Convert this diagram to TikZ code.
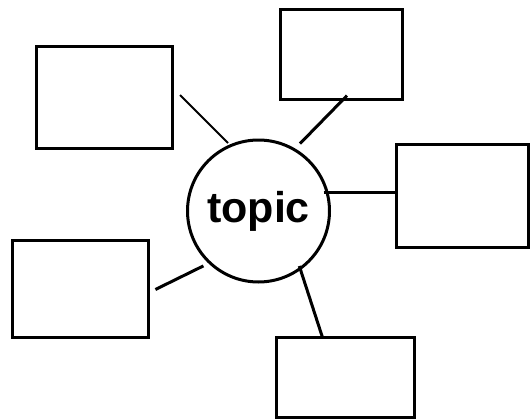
\documentclass[tikz,border=0pt]{standalone}
\usepackage{fontspec}
\setmainfont{Liberation Sans}
\begin{document}
\begin{tikzpicture}[x=1pt,y=-1pt,
  box/.style={draw=black,line width=3pt,rectangle,inner sep=0pt},
  topicnode/.style={draw=black,line width=3pt,circle,inner sep=0pt,minimum size=142pt,font=\fontsize{43}{50}\selectfont\bfseries},
  link/.style={draw=black,line width=3pt},
  thinlink/.style={draw=black,line width=2pt}]
\useasboundingbox (0,0) rectangle (530,420);
\node[topicnode] (c) at (258.5,211) {\raisebox{2pt}{topic}};
\node[box,minimum width=135.8pt,minimum height=101pt] (tl) at (104.4,97.5) {};
\node[box,minimum width=121.6pt,minimum height=90.2pt] (tp) at (341.2,54.2) {};
\node[box,minimum width=132.2pt,minimum height=103pt] (rt) at (462.4,196.1) {};
\node[box,minimum width=135.2pt,minimum height=97.3pt] (bl) at (80.4,289.2) {};
\node[box,minimum width=138.5pt,minimum height=79.2pt] (bt) at (345.6,377.4) {};
\coordinate (a1) at (180,95);
\coordinate (a2) at (228,143);
\coordinate (b1) at (300,143.6);
\coordinate (b2) at (347,95.6);
\coordinate (c1) at (323.6,192.6);
\coordinate (d1) at (155.4,289.5);
\coordinate (d2) at (203.4,265.9);
\coordinate (e1) at (299.3,266);
\coordinate (e2) at (322.6,337.8);
\draw[thinlink] (a1) -- (a2);
\draw[link] (b1) -- (b2);
\draw[link] (c1) -- (rt.west |- c1);
\draw[link] (d1) -- (d2);
\draw[link] (e1) -- (e2);
\end{tikzpicture}
\end{document}
